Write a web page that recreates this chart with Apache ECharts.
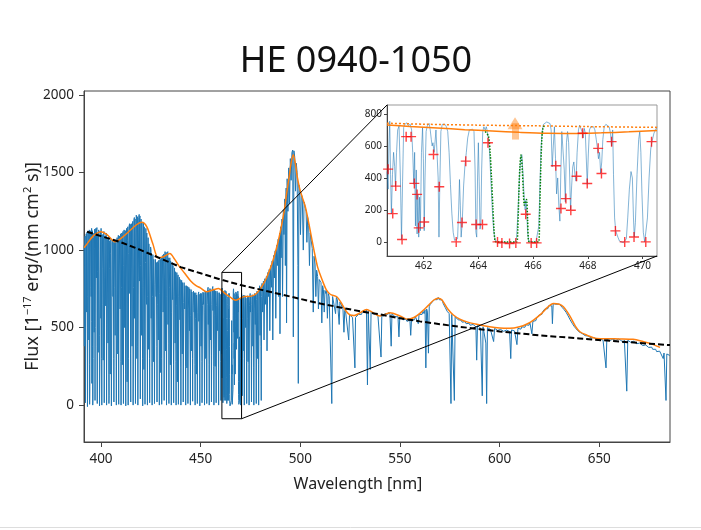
<!DOCTYPE html>
<html><head><meta charset="utf-8">
<script src="https://cdn.jsdelivr.net/npm/echarts@6/dist/echarts.min.js"></script>
<style>html,body{margin:0;padding:0;background:#fff}#main{width:701px;height:530px}</style>
</head><body><div id="main"></div>
<script>
// ---------- DATA ----------
const titleText = 'HE 0940-1050';
const xLabelText = 'Wavelength [nm]';
const mainXRange = [391.47, 685.5];
const mainYRange = [-238, 2026];
const xTicks = [400, 450, 500, 550, 600, 650];
const yTicks = [0, 500, 1000, 1500, 2000];
const insetXRange = [460.66, 470.53];
const insetYRange = [-88, 856];
const insetXTicks = [462, 464, 466, 468, 470];
const insetYTicks = [0, 200, 400, 600, 800];

// spectrum, flat [wavelength, flux, ...] segments
const specForest = [
391.5,1030,391.58,820,391.66,380,391.75,900,391.9,1070,392.05,1090,392.14,300,392.2,15,392.28,500,392.42,1080,
392.6,1105,392.74,1060,392.82,600,392.9,980,393.0,1115,393.12,700,393.2,-10,393.27,60,393.36,640,393.52,1090,
393.68,1120,393.85,1100,393.92,420,394.0,920,394.12,1130,394.22,260,394.3,5,394.4,120,394.5,760,394.7,1110,
394.95,1125,395.05,700,395.15,1000,395.3,1140,395.36,540,395.42,140,395.5,700,395.62,1125,395.76,380,395.86,0,
395.95,40,396.05,300,396.2,1080,396.48,1110,396.56,470,396.66,1010,396.84,1135,396.93,540,397.0,30,397.1,500,
397.25,1110,397.42,1140,397.6,1100,397.66,820,397.74,1120,397.95,1145,398.04,380,398.12,10,398.22,860,398.36,1110,
398.48,900,398.58,340,398.68,1000,398.84,1130,399.08,1120,399.16,450,399.26,-5,399.34,-5,399.44,260,399.6,1120,
399.86,1090,399.94,560,400.04,1140,400.22,1150,400.32,300,400.4,0,400.5,650,400.66,1100,400.9,1110,400.98,880,
401.1,290,401.22,1080,401.46,1120,401.55,350,401.62,15,401.7,15,401.82,820,402.0,1090,402.3,1100,402.38,640,
402.48,1090,402.64,1110,402.72,420,402.8,0,402.92,520,403.14,1070,403.44,1080,403.52,400,403.62,1050,403.82,1085,
403.9,200,403.98,10,404.08,60,404.2,880,404.38,1060,404.52,600,404.62,200,404.74,980,404.98,1070,405.1,400,
405.22,-5,405.34,-5,405.48,700,405.62,1045,405.94,1060,406.02,700,406.12,1050,406.32,1060,406.4,300,406.48,20,
406.58,760,406.82,1050,407.02,850,407.1,450,407.26,1050,407.5,1065,407.6,250,407.7,0,407.78,0,407.92,620,
408.08,1080,408.36,1070,408.42,330,408.52,1000,408.7,1095,408.8,350,408.88,5,409.0,840,409.24,1090,409.5,1100,
409.58,620,409.68,1090,409.9,1105,409.98,280,410.06,0,410.14,0,410.26,760,410.44,1110,410.6,700,410.7,260,
410.82,1090,411.06,1120,411.16,380,411.26,10,411.4,900,411.6,1130,411.8,1120,411.9,500,412.02,1110,412.24,1125,
412.34,200,412.42,-5,412.5,-5,412.62,820,412.84,1140,413.0,620,413.1,150,413.22,1060,413.44,1150,413.54,420,
413.62,0,413.72,300,413.86,980,414.08,1155,414.34,1170,414.42,720,414.54,1150,414.74,1165,414.84,330,414.92,20,
415.06,880,415.26,1170,415.5,1160,415.58,380,415.7,1150,415.94,1185,416.04,480,416.12,0,416.2,0,416.34,760,
416.5,1195,416.74,1210,416.82,560,416.96,1180,417.14,1200,417.22,250,417.3,10,417.44,1000,417.7,1225,417.92,1200,
418.0,300,418.12,1200,418.32,1215,418.42,380,418.5,0,418.6,0,418.74,820,418.92,1210,419.16,1230,419.24,800,
419.36,1200,419.56,1220,419.64,480,419.72,40,419.86,900,420.1,1200,420.3,1190,420.4,450,420.52,1180,420.74,1190,
420.84,300,420.92,-5,421.04,760,421.28,1180,421.44,800,421.54,230,421.68,1150,421.92,1160,422.0,420,422.08,5,
422.16,5,422.3,920,422.52,1140,422.76,1150,422.84,650,422.98,1110,423.14,1120,423.22,320,423.3,0,423.42,700,
423.64,1080,423.82,1070,423.9,360,424.04,1040,424.24,1050,424.34,300,424.42,15,424.5,15,424.64,800,424.88,1020,
425.1,1000,425.18,560,425.3,980,425.5,990,425.58,240,425.66,0,425.8,700,426.04,970,426.24,960,426.32,280,
426.46,940,426.66,950,426.76,330,426.84,10,426.92,10,427.06,780,427.3,940,427.56,950,427.64,700,427.76,920,
427.94,930,428.02,380,428.1,20,428.24,650,428.46,925,428.66,920,428.74,420,428.88,920,429.1,935,429.2,260,
429.28,0,429.36,0,429.5,720,429.72,940,429.84,600,429.94,210,430.06,930,430.3,955,430.38,300,430.46,5,
430.6,800,430.82,965,431.08,970,431.16,600,431.3,960,431.52,975,431.6,350,431.68,30,431.76,30,431.9,820,
432.14,990,432.3,980,432.38,350,432.52,970,432.72,985,432.8,260,432.88,0,433.02,700,433.26,975,433.52,990,
433.6,520,433.74,950,433.92,960,434.0,400,434.08,10,434.16,10,434.3,760,434.52,950,434.7,940,434.78,260,
434.92,930,435.12,935,435.2,300,435.28,0,435.42,600,435.66,920,435.9,930,435.98,680,436.1,900,436.3,905,
436.38,260,436.46,15,436.54,15,436.68,700,436.9,885,437.1,880,437.18,400,437.32,860,437.52,870,437.6,280,
437.68,0,437.82,640,438.04,855,438.24,850,438.32,150,438.46,820,438.68,840,438.76,350,438.84,5,438.92,5,
439.06,700,439.3,825,439.54,830,439.62,550,439.74,810,439.94,815,440.02,240,440.1,0,440.24,600,440.46,805,
440.66,800,440.74,330,440.88,790,441.1,795,441.18,380,441.26,20,441.34,20,441.48,660,441.7,790,441.94,800,
442.02,620,442.14,770,442.34,780,442.42,250,442.5,0,442.64,600,442.86,770,443.04,760,443.12,240,443.26,750,
443.46,765,443.54,350,443.62,10,443.7,10,443.84,620,444.06,760,444.3,770,444.38,480,444.5,750,444.7,755,
444.78,220,444.86,0,445.0,580,445.22,745,445.4,740,445.48,350,445.62,730,445.82,740,445.9,300,445.98,25,
446.06,25,446.2,640,446.42,735,446.66,745,446.74,600,446.86,725,447.06,730,447.14,260,447.22,0,447.36,560,
447.58,725,447.76,720,447.84,200,447.98,710,448.18,720,448.26,300,448.34,10,448.42,10,448.56,600,448.78,715,
449.02,730,449.1,540,449.22,715,449.42,718,449.5,220,449.58,-5,449.72,620,449.94,720,450.12,715,450.2,380,
450.34,720,450.54,725,450.62,280,450.7,15,450.78,15,450.92,640,451.14,728,451.38,740,451.46,650,451.58,725,
451.78,730,451.86,240,451.94,0,452.08,600,452.3,735,452.48,730,452.56,300,452.7,730,452.9,740,452.98,300,
453.06,10,453.14,10,453.28,650,453.5,745,453.74,760,453.82,520,453.94,740,454.14,750,454.22,260,454.3,0,
454.44,620,454.66,752,454.84,745,454.92,420,455.06,745,455.26,755,455.34,320,455.42,20,455.5,20,455.64,650,
455.86,752,456.1,765,456.18,610,456.3,745,456.5,748,456.58,250,456.66,0,456.8,580,457.02,745,457.2,740,
457.28,250,457.42,735,457.62,740,457.7,300,457.78,15,457.86,15,458.0,640,458.22,735,458.46,745,458.54,480,
458.66,725,458.86,730,458.94,240,459.02,0,459.16,620,459.38,725,459.56,720,459.64,350,459.78,715,459.98,720,
460.06,280,460.14,30,460.22,30,460.36,560,460.55,720
];
const specInset = [
460.66,440,460.70,330,460.73,600,460.76,755,460.79,420,460.82,175,460.86,420,460.90,560,460.94,470,460.97,345,
461.01,560,461.05,700,461.10,725,461.15,400,461.19,15,461.23,380,461.27,715,461.31,735,461.35,725,461.39,745,
461.43,728,461.47,740,461.51,735,461.56,700,461.60,560,461.64,360,461.67,560,461.70,100,461.73,450,461.76,50,
461.79,300,461.82,30,461.85,280,461.88,70,461.92,560,461.96,715,461.99,520,462.02,70,462.05,400,462.09,690,
462.13,725,462.17,735,462.20,740,462.24,700,462.28,640,462.31,600,462.34,620,462.38,560,462.41,610,462.45,700,
462.49,690,462.53,400,462.56,30,462.59,350,462.63,690,462.68,735,462.73,740,462.78,735,462.83,720,462.88,690,
462.93,560,462.98,360,463.03,180,463.08,60,463.13,10,463.19,0,463.24,20,463.28,200,463.31,390,463.34,230,
463.37,30,463.41,120,463.46,350,463.51,480,463.56,560,463.61,650,463.67,700,463.73,710,463.79,705,463.84,690,
463.88,450,463.91,60,463.94,30,463.97,400,464.00,620,464.03,380,464.06,80,464.09,110,464.12,450,464.16,690,
464.20,720,464.25,700,464.29,720,464.33,690,464.37,640,464.41,560,464.46,380,464.51,200,464.56,70,464.61,10,
464.66,0,464.75,-5,464.85,-5,464.95,0,465.05,-8,465.15,-5,465.25,-5,465.35,0,465.40,30,465.45,200,
465.50,400,465.55,530,465.59,545,465.63,430,465.67,290,465.71,200,465.74,260,465.77,180,465.80,60,465.84,5,
465.90,-5,466.00,0,466.10,-5,466.17,0,466.21,100,466.25,350,466.29,580,466.33,690,466.38,735,466.44,745,
466.50,750,466.56,745,466.62,740,466.66,700,466.70,470,466.74,600,466.78,720,466.82,520,466.86,300,466.90,400,
466.94,230,466.98,130,467.01,400,467.05,690,467.10,680,467.14,450,467.18,250,467.22,620,467.26,690,467.30,620,
467.34,400,467.37,200,467.41,350,467.45,470,467.49,500,467.53,420,467.57,380,467.61,560,467.66,700,467.70,730,
467.75,720,467.79,690,467.83,650,467.87,710,467.91,680,467.95,500,467.98,360,468.02,550,468.06,700,468.11,720,
468.16,725,468.21,720,468.26,700,468.31,640,468.35,590,468.39,520,468.43,560,468.47,430,468.51,500,468.55,640,
468.60,720,468.66,735,468.72,735,468.78,720,468.83,680,468.87,600,468.91,700,468.94,420,468.98,150,469.02,70,
469.06,60,469.10,30,469.16,5,469.22,0,469.30,-5,469.36,0,469.41,20,469.46,150,469.52,330,469.58,440,
469.63,400,469.67,150,469.70,30,469.74,120,469.80,420,469.86,640,469.90,690,469.94,560,469.98,300,470.03,60,
470.08,0,470.13,5,470.18,150,470.24,400,470.30,580,470.35,630,470.42,680,470.53,720
];
const specLyA = [
470.7,700,470.82,420,470.9,60,471.05,560,471.2,705,471.32,650,471.4,350,471.55,690,471.7,710,471.8,300,
471.9,0,472.1,620,472.3,705,472.45,690,472.6,500,472.75,690,472.9,700,473.0,280,473.1,10,473.3,600,
473.5,705,473.65,560,473.8,280,473.95,700,474.1,710,474.2,260,474.3,0,474.5,640,474.7,705,474.85,720,
475.0,600,475.15,700,475.3,710,475.4,300,475.5,20,475.7,650,475.9,712,476.05,600,476.2,380,476.35,705,
476.5,715,476.6,240,476.7,0,476.9,620,477.1,720,477.25,730,477.4,520,477.55,715,477.7,725,477.8,300,
477.9,10,478.1,680,478.3,735,478.45,600,478.6,300,478.75,735,478.9,745,479.0,260,479.1,0,479.3,700,
479.5,755,479.65,770,479.8,450,479.95,760,480.1,765,480.25,380,480.4,30,480.6,700,
480.8,785,481.1,600,481.5,800,481.8,420,482.2,815,482.6,650,
483.0,830,483.3,350,483.7,855,484.0,700,484.4,875,484.7,480,485.1,900,485.5,760,485.9,930,486.2,420,
486.6,965,487.0,820,487.4,995,487.7,560,488.1,1030,488.5,900,488.9,1070,489.2,700,489.6,1110,489.8,460,
490.1,1150,490.4,950,490.8,1200,491.1,700,491.5,1260,491.8,1100,492.2,1330,492.5,900,492.9,1400,493.1,530,
493.4,1460,493.8,1250,494.2,1530,494.6,1300,495.0,1590,495.4,1450,495.8,1630,496.2,1645,496.5,440,496.8,1640,
497.2,1600,497.6,1380,498.0,1560,498.4,1500,498.8,900,499.0,140,499.3,1420,499.7,1390,500.1,1100,500.5,1360,
501.0,1340,501.5,1000,501.9,1310,502.4,1280,502.9,1250,503.3,1050,503.7,1210,504.2,1160,504.6,900,505.0,1110,
505.5,1060,506.0,1010,506.5,600,506.9,960,507.4,910,507.8,700,508.2,870,508.7,830,509.1,620,509.5,810,510.0,800
];
const specRed = [
510.4,790,510.8,530,511.2,770,511.6,745,512.0,600,512.4,740,512.8,720,513.2,735,513.6,560,514.0,720,
514.5,700,515.0,712,515.4,690,515.8,10,516.2,700,516.7,690,517.2,705,517.7,590,518.1,695,518.6,680,
519.1,690,519.5,520,519.9,665,520.4,650,520.9,640,521.4,625,521.9,470,522.3,610,522.8,595,523.3,600,
523.8,585,524.3,420,524.7,582,525.2,570,525.7,580,526.2,565,526.7,575,527.1,560,527.4,240,527.7,565,
528.2,575,528.7,560,529.2,585,529.7,580,530.2,595,530.7,585,531.2,605,531.7,595,532.2,612,532.7,600,
533.2,615,533.7,130,534.1,605,534.6,610,535.1,230,535.5,600,536.0,590,536.5,600,537.0,585,537.5,590,
538.0,575,538.5,585,539.0,570,539.5,580,540.0,565,540.5,310,540.9,575,541.5,585,542.0,575,542.5,592,
543.0,580,543.5,598,544.0,585,544.5,600,545.0,585,545.6,380,546.0,590,546.5,578,547.0,585,547.5,570,
548.0,578,548.5,560,549.0,570,549.5,440,549.9,565,550.5,555,551.0,565,551.5,550,552.0,560,552.5,545,
553.0,555,553.5,540,554.0,550,554.5,535,555.0,548,555.4,450,555.8,550,556.3,540,556.8,560,557.3,550,
557.8,570,558.3,560,558.8,575,559.2,525,559.6,585,560.1,575,560.6,595,561.1,585,561.6,605,562.1,590,
562.6,615,563.0,240,563.4,620,563.8,600,564.3,335,564.7,635,565.2,650,565.7,640,566.2,665,566.7,660,
567.2,680,567.7,670,568.2,690,568.7,680,569.2,695,569.7,680,570.2,690,570.7,670,571.2,678,571.7,655,
572.2,660,572.7,630,573.2,635,573.7,605,574.2,612,574.7,590,575.1,595,575.6,10,576.0,585,576.5,575,
576.9,580,577.3,30,577.7,570,578.2,560,578.7,565,579.2,550,579.7,555,580.2,540,580.7,548,581.2,535,
581.7,542,582.2,530,582.7,538,583.2,525,583.7,532,584.2,520,584.7,528,585.2,515,585.7,522,586.2,512,
586.7,520,587.2,508,587.7,515,588.1,505,588.5,290,588.9,512,589.4,500,589.9,510,590.4,498,590.9,505,
591.3,60,591.7,505,592.2,495,592.7,502,593.1,400,593.5,10,593.9,500,594.4,490,594.9,500,595.4,488,
595.9,498,596.4,485,597.0,410,597.5,495,598.0,485,598.5,492,599.0,482,599.5,490,600.0,480,600.5,488,
601.0,478,601.5,486,602.0,476,602.5,485,603.0,475,603.5,484,604.0,474,604.5,485,605.0,475,605.6,300,
606.0,485,606.5,476,607.0,488,607.5,478,608.0,490,608.7,390,609.2,495,609.7,485,610.2,500,610.7,490,
611.2,505,611.7,495,612.2,512,612.7,502,613.2,518,613.7,508,614.2,525,614.7,515,615.2,532,615.7,522,
616.2,460,616.7,540,617.2,532,617.7,552,618.2,545,618.7,565,619.2,558,619.7,580,620.2,572,620.7,592,
621.2,585,621.7,605,622.2,598,622.7,620,623.2,610,623.7,632,624.2,622,624.7,642,625.2,635,625.7,652,
626.2,640,626.5,525,626.9,655,627.4,645,627.9,662,628.4,650,628.9,660,629.4,648,629.9,652,630.4,640,
630.9,645,631.4,630,631.9,632,632.4,615,632.9,618,633.4,598,633.9,595,634.4,575,634.9,570,635.4,550,
635.9,545,636.4,528,636.9,522,637.4,508,637.9,500,638.4,492,638.9,485,639.4,480,639.9,472,640.4,470,
640.9,462,641.4,462,641.9,455,642.4,455,642.9,448,643.4,450,643.9,442,644.4,446,644.9,438,645.4,442,
645.9,434,646.4,438,646.9,430,647.4,435,647.9,427,648.4,432,648.9,424,649.4,430,649.9,422,650.4,428,
650.9,420,651.4,427,651.9,419,652.4,426,652.9,418,653.4,240,653.8,425,654.3,418,654.8,425,655.3,417,
655.8,424,656.3,417,656.8,425,657.3,416,657.8,426,658.3,418,658.8,427,659.3,418,659.8,426,660.3,416,
660.8,424,661.3,414,661.8,420,662.2,400,662.6,418,663.1,410,663.8,90,664.3,418,664.8,408,665.3,416,
665.8,405,666.3,414,666.8,403,667.3,412,667.8,400,668.3,408,668.8,396,669.3,404,669.8,392,670.3,400,
670.8,388,671.3,396,671.8,384,672.3,392,672.8,380,673.3,388,673.8,376,674.3,384,674.8,372,675.3,380,
675.8,366,676.3,374,676.8,360,677.3,368,677.8,352,678.3,360,678.8,345,679.3,354,679.8,340,680.3,348,
680.8,335,681.3,342,681.8,330,682.1,300,682.5,336,682.9,325,683.5,30,683.9,330,684.4,318,684.9,326,685.4,320
];

// continuum fit (orange) in the main panel
const contWl = [391.5,393,396,400,403,407,410,414,418,420.5,423,426,428.7,431,434.5,437,439,442,445,447.5,450,453,456,459,462,465,467.5,470,472,475.5,478,480.6,483,485.6,488,490,492,493.2,494.5,495.5,496.5,497.5,498.5,499.8,501,502.5,504,505.5,507,508.5,510,511.5,513,515,518.3,520.5,523,525,527,530,533.3,536,540,545,550,554,557,560,564,567,569.2,571,574,576.8,580,584,588.5,595,600,605,610,614,617,621,624,627,630,632,635,638,640.3,644,648.7,655,660,667,672,675.5,680.5];
const contFlux = [1015,1040,1090,1118,1100,1054,1075,1120,1165,1180,1150,1040,950,955,978,940,900,850,800,772,755,731,742,752,722,695,676,690,700,703,720,763,820,905,1010,1120,1260,1370,1480,1570,1615,1560,1470,1390,1340,1280,1190,1090,990,900,840,790,745,715,699,660,605,581,578,595,617,600,574,596,575,553,565,592,640,678,690,680,620,581,555,535,521,505,497,495,505,525,548,590,630,656,650,634,580,510,473,450,430,428,427,424,410,398,372];

// power-law (black dashed)
const powWl = [393,400,410,420,430,440,450,460,470,480,490,500,510,520,530,540,550,560,570,580,590,600,620,640,660,685.5];
const powFlux = [1118,1090,1050,1000,945,890,850,810,775,745,715,685,655,630,605,585,560,540,522,505,490,475,450,430,410,387];

// inset overlays
const insetContWl = [460.66,461.5,462.5,463.5,464.5,465.5,466.5,467.5,468.5,469.5,470.53];
const insetContFlux = [731,722,712,702,693,685,679,678,682,688,696];
const insetDotWl = [460.66,462,464,466,468,470.53];
const insetDotFlux = [742,736,730,726,721,716];
const voigtWl = [464.25,464.37,464.43,464.48,464.53,464.57,464.61,464.65,465.0,465.4,465.44,465.48,465.52,465.56,465.6,465.64,465.68,465.72,465.76,465.8,465.83,465.87,466.2,466.24,466.28,466.32,466.36,466.4];
const voigtFlux = [690,660,560,400,220,80,5,0,0,0,80,300,480,545,470,330,230,250,265,140,10,0,0,180,450,640,710,725];
const crossWl = [460.70,460.87,460.98,461.21,461.36,461.54,461.66,461.76,461.82,462.02,462.36,462.57,463.19,463.40,463.54,463.92,464.15,464.35,464.70,464.86,465.14,465.37,465.73,465.93,466.13,466.83,467.02,467.20,467.38,467.59,467.81,467.98,468.38,468.50,468.87,469.01,469.35,469.69,470.12,470.33];
const crossFlux = [455,177,349,15,658,658,366,297,88,125,547,345,0,121,505,109,109,620,0,-6,-10,-6,173,-6,-6,476,209,271,198,411,679,365,585,428,627,69,0,31,0,627];
const arrowWl = 465.34;
const arrowFlux = [640, 742];

// ---------- BUILD ----------
function pairs(a){const r=[];for(let i=0;i<a.length;i+=2)r.push([a[i],a[i+1]]);return r;}
function zip(x,y){return x.map((v,i)=>[v,y[i]]);}
const spectrum = pairs(specForest).concat(pairs(specInset), pairs(specLyA), pairs(specRed));
const insetSpectrum = pairs(specInset);
const rectData = [[insetXRange[0],insetYRange[0]],[insetXRange[1],insetYRange[0]],[insetXRange[1],insetYRange[1]],[insetXRange[0],insetYRange[1]],[insetXRange[0],insetYRange[0]]];

const FONT = 'Noto Sans';
const AX = '#444';
function axis(gi, range, ticks, fs, tl, mg){
  return {type:'value', gridIndex:gi, min:range[0], max:range[1],
    axisLine:{show:true,onZero:false,lineStyle:{color:AX,width:1}},
    axisTick:{show:true,length:tl,customValues:ticks,lineStyle:{color:AX}},
    axisLabel:{customValues:ticks,margin:mg,fontSize:fs,color:'#222',fontFamily:FONT,formatter:v=>String(v)},
    splitLine:{show:false}};
}
const yMain = axis(0, mainYRange, yTicks, 13.5, 5, 10);
yMain.name = 'Flux [1{sup|−17} erg/(nm cm{sup|2} s)]';
yMain.nameLocation = 'middle';
yMain.nameGap = 40;
yMain.nameMoveOverlap = false;
yMain.nameTextStyle = {fontSize:18, fontFamily:FONT, color:'#222', lineHeight:22,
  rich:{sup:{fontSize:11, fontFamily:FONT, color:'#222', lineHeight:12, verticalAlign:'top'}}};

const option = {
  animation:false,
  backgroundColor:'#fff',
  grid:[
    {left:84, top:91, width:586, height:351, show:true, borderColor:AX, borderWidth:1, backgroundColor:'transparent'},
    {left:387, top:105, width:270, height:151, show:true, borderColor:'#999', borderWidth:1, backgroundColor:'#fff'}
  ],
  xAxis:[axis(0, mainXRange, xTicks, 13.5, 5, 10), axis(1, insetXRange, insetXTicks, 10, 3, 5)],
  yAxis:[yMain, axis(1, insetYRange, insetYTicks, 10, 3, 5)],
  series:[
    {type:'line', xAxisIndex:0, yAxisIndex:0, data:spectrum, showSymbol:false, symbol:'none',
      lineStyle:{color:'#1f77b4', width:1}, z:2},
    {type:'line', xAxisIndex:0, yAxisIndex:0, data:zip(contWl,contFlux), showSymbol:false, symbol:'none', smooth:0.3,
      lineStyle:{color:'#ff7f0e', width:1.5}, z:3},
    {type:'line', xAxisIndex:0, yAxisIndex:0, data:zip(powWl,powFlux), showSymbol:false, symbol:'none',
      lineStyle:{color:'#000', width:2, type:[6,3]}, z:4},
    {type:'line', xAxisIndex:0, yAxisIndex:0, data:rectData, showSymbol:false, symbol:'none',
      lineStyle:{color:'#000', width:1}, z:5},
    {type:'line', xAxisIndex:1, yAxisIndex:1, data:insetSpectrum, showSymbol:false, symbol:'none',
      lineStyle:{color:'#1f77b4', width:1, opacity:0.55}, z:6},
    {type:'line', xAxisIndex:1, yAxisIndex:1, data:zip(insetContWl,insetContFlux), showSymbol:false, symbol:'none', smooth:0.3,
      lineStyle:{color:'#ff7f0e', width:1.5}, z:7,
      markLine:{silent:true, symbol:['none','triangle'], symbolSize:[15,12], label:{show:false},
        lineStyle:{color:'rgba(255,127,14,0.45)', width:7, type:'solid'},
        emphasis:{disabled:true},
        data:[[{coord:[arrowWl,arrowFlux[0]]},{coord:[arrowWl,arrowFlux[1]]}]]}},
    {type:'line', xAxisIndex:1, yAxisIndex:1, data:zip(insetDotWl,insetDotFlux), showSymbol:false, symbol:'none', smooth:0.3,
      lineStyle:{color:'#ff7f0e', width:1.5, type:[2,2]}, z:7},
    {type:'line', xAxisIndex:1, yAxisIndex:1, data:zip(voigtWl,voigtFlux), showSymbol:false, symbol:'none', smooth:0.3,
      lineStyle:{color:'#008000', width:1.5, type:[1.5,1.5]}, z:8},
    {type:'scatter', xAxisIndex:1, yAxisIndex:1, data:zip(crossWl,crossFlux),
      symbol:'path://M4.3,0h1.4v4.3h4.3v1.4h-4.3v4.3h-1.4v-4.3h-4.3v-1.4h4.3z', symbolSize:10,
      itemStyle:{color:'#ff0000', opacity:0.75}, z:9}
  ],
  graphic:[
    {type:'text', x:356, y:62, z:50, style:{text:titleText, font:'36px "Noto Sans"', fill:'#111', align:'center', verticalAlign:'middle'}},
    {type:'text', x:358, y:484, z:50, style:{text:xLabelText, font:'16px "Noto Sans"', fill:'#222', align:'center', verticalAlign:'middle'}},
    {type:'line', z:50, shape:{x1:0,y1:527.5,x2:701,y2:527.5}, style:{stroke:'#ddd', lineWidth:1}}
  ]
};
const chart = echarts.init(document.getElementById('main'), null, {renderer:'canvas'});
chart.setOption(option);
// connector lines between the indicated region and the inset, positioned via the axes' own scales
const a1 = chart.convertToPixel({gridIndex:0}, [insetXRange[0], insetYRange[1]]);
const b1 = chart.convertToPixel({gridIndex:1}, [insetXRange[0], insetYRange[1]]);
const a2 = chart.convertToPixel({gridIndex:0}, [insetXRange[1], insetYRange[0]]);
const b2 = chart.convertToPixel({gridIndex:1}, [insetXRange[1], insetYRange[0]]);
const g = option.graphic.slice();
g.push({type:'line', z:60, shape:{x1:a1[0],y1:a1[1],x2:b1[0],y2:b1[1]}, style:{stroke:'#000', lineWidth:1}});
g.push({type:'line', z:60, shape:{x1:a2[0],y1:a2[1],x2:b2[0],y2:b2[1]}, style:{stroke:'#000', lineWidth:1}});
chart.setOption({graphic:g});
</script></body></html>
